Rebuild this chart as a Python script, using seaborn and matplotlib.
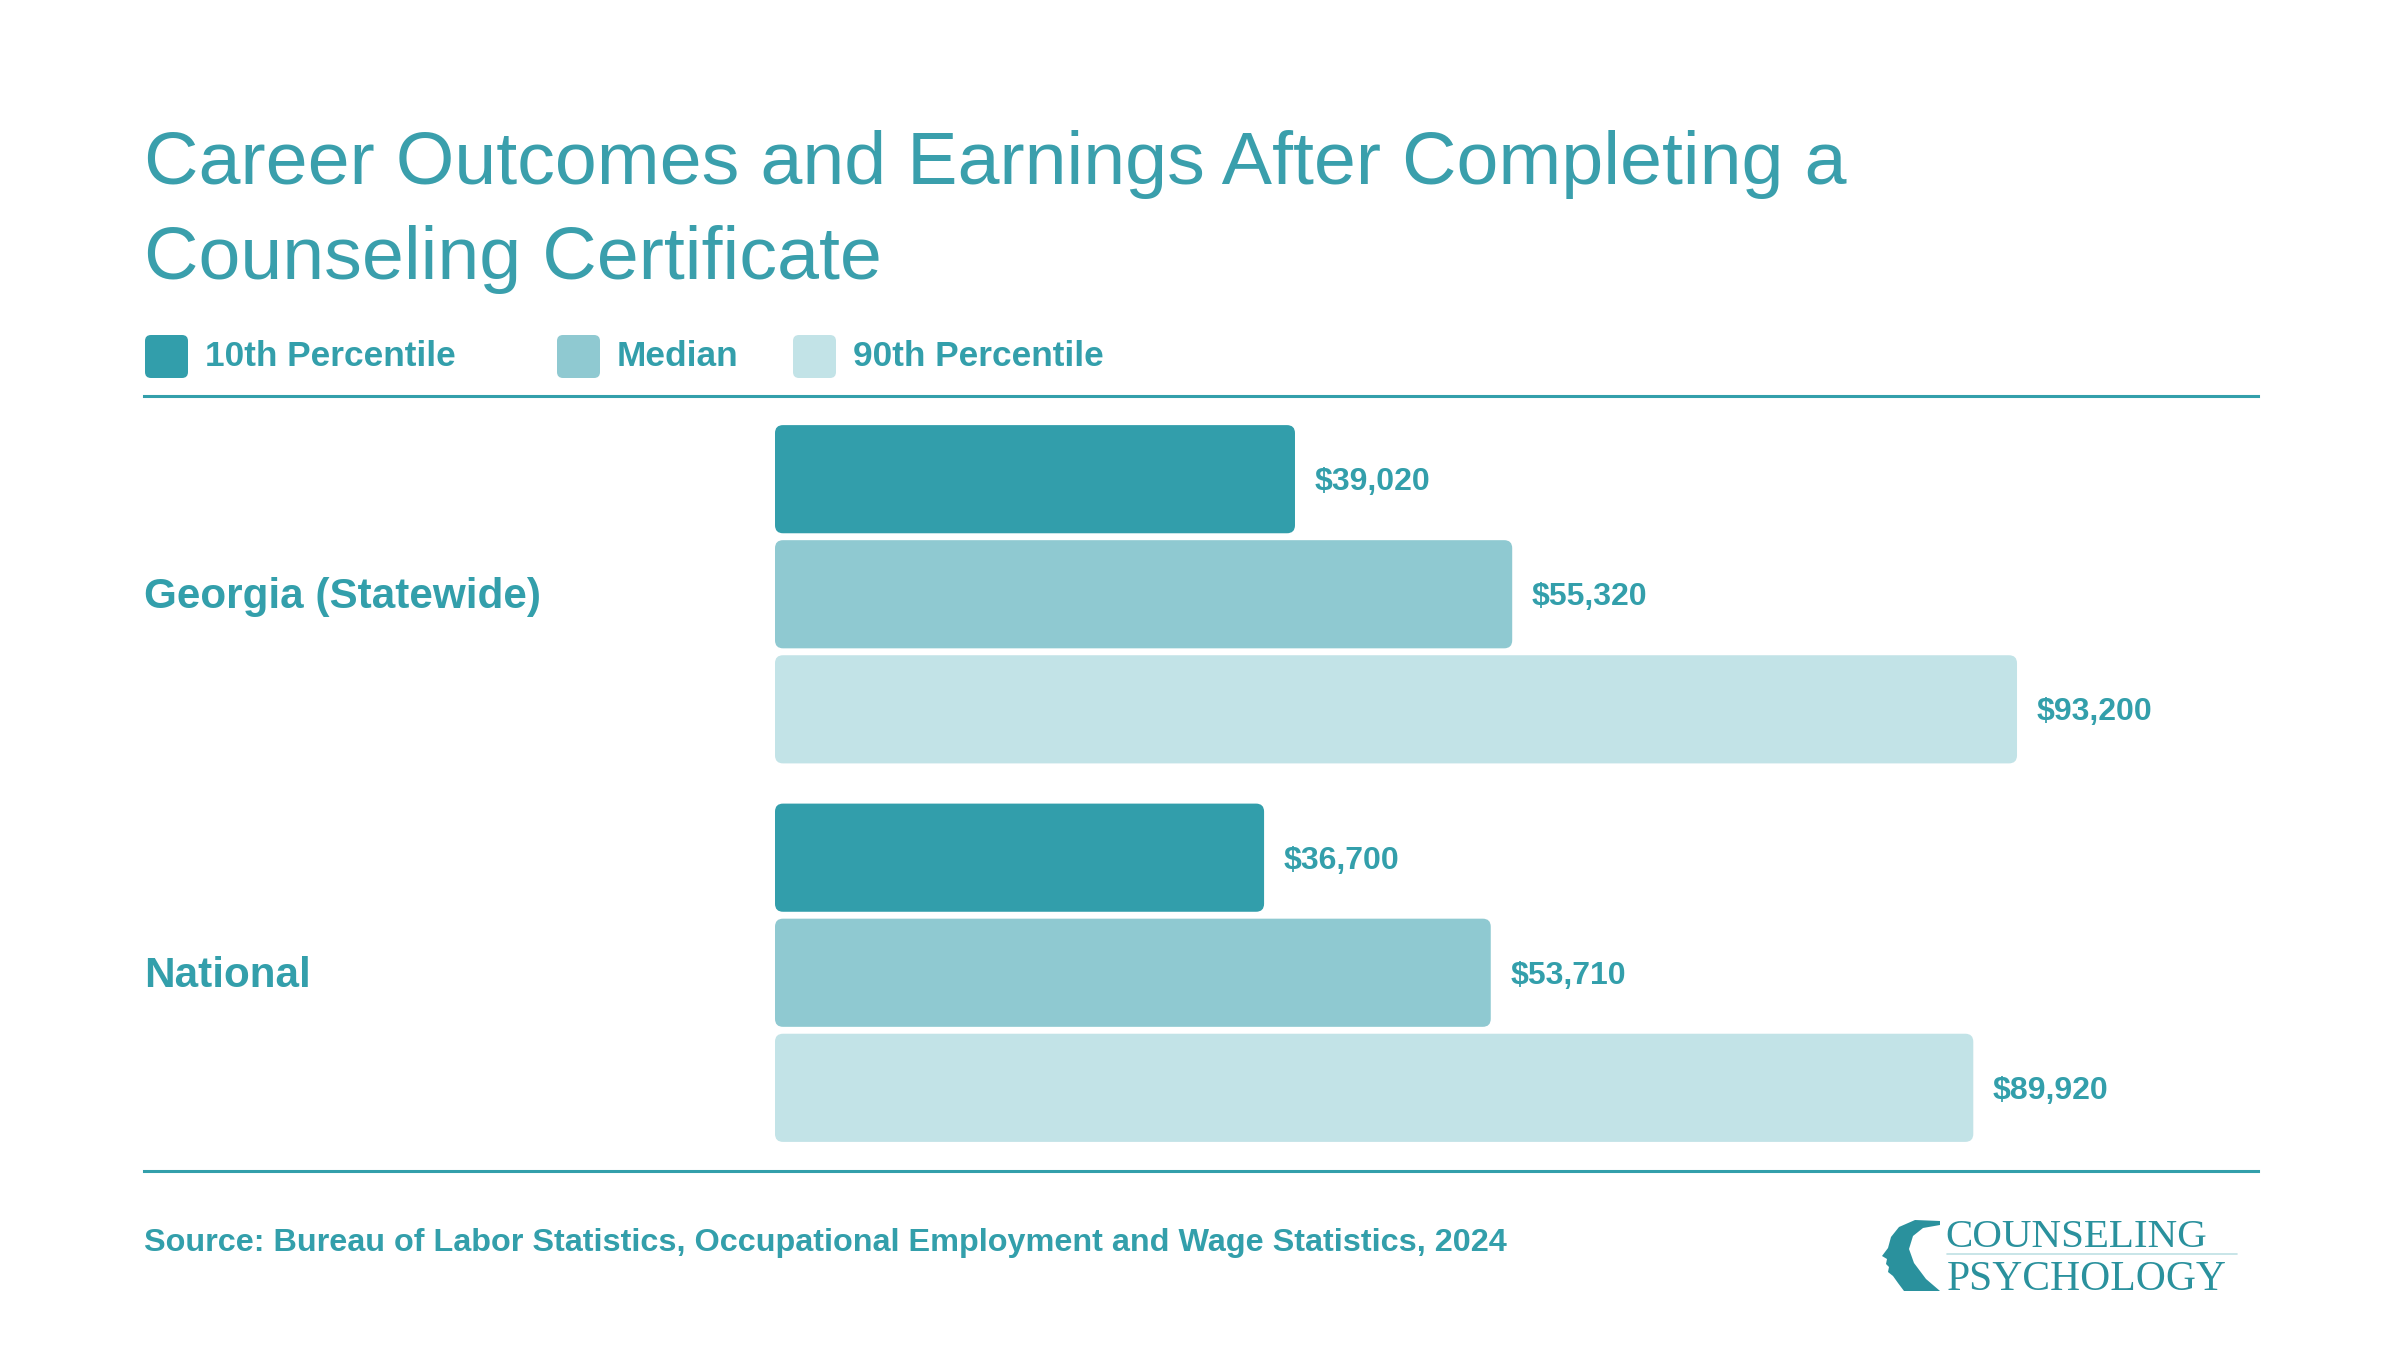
import numpy as np
import pandas as pd
import matplotlib.pyplot as plt
import matplotlib.transforms as mtransforms
import seaborn as sns
from matplotlib.patches import FancyBboxPatch, Polygon
from matplotlib.lines import Line2D

# data
regions = ["Georgia (Statewide)", "National"]
levels = ["10th Percentile", "Median", "90th Percentile"]
p10 = [39020, 36700]
median = [55320, 53710]
p90 = [93200, 89920]

colors = ["#329EAB", "#8FC9D1", "#C2E3E7"]
teal = "#339FAB"
title_teal = "#3A9FAC"

df = pd.DataFrame({
    "Region": regions * len(levels),
    "Level": np.repeat(levels, len(regions)),
    "Wage": p10 + median + p90,
})

sns.set_style("white")
plt.rcParams["font.family"] = ["Liberation Sans", "DejaVu Sans"]

W, H = 2400, 1350
fig = plt.figure(figsize=(W / 100, H / 100), dpi=100)
fig.patch.set_facecolor("white")


def fx(x):
    return x / W


def fy(y):
    return 1 - y / H


# axes spans the full content width; bars start at x=0 further right
ax_left, ax_right, ax_top, ax_bottom = 144, 2258, 396, 1171
bar_origin = 775
usd_per_px = 75.04
cat_px = 378.5

ax = fig.add_axes([fx(ax_left), fy(ax_bottom), (ax_right - ax_left) / W, (ax_bottom - ax_top) / H])
sns.barplot(
    data=df, x="Wage", y="Region", hue="Level", hue_order=levels,
    palette=colors, orient="h", width=0.912, gap=0.06, saturation=1,
    errorbar=None, legend=False, ax=ax,
)

ax.set_xlim(-(bar_origin - ax_left) * usd_per_px, (ax_right - bar_origin) * usd_per_px)
half = (ax_bottom - ax_top) / 2 / cat_px
ax.set_ylim(0.5 + half, 0.5 - half)
ax.set_xticks([])
ax.set_yticks([])
ax.set_xlabel("")
ax.set_ylabel("")
for side in ["left", "right"]:
    ax.spines[side].set_visible(False)
for side in ["top", "bottom"]:
    ax.spines[side].set_color(teal)
    ax.spines[side].set_linewidth(2.2)

# value labels
for cont in ax.containers:
    texts = ax.bar_label(cont, labels=[f"${v:,.0f}" for v in cont.datavalues], padding=14,
                         fontsize=23, fontweight="bold", color=teal)
    for t in texts:
        t.xyann = (14, -2.2)

# swap plain rectangles for rounded ones
x_upp = (ax.get_xlim()[1] - ax.get_xlim()[0]) / (ax_right - ax_left)
y_upp = abs(ax.get_ylim()[1] - ax.get_ylim()[0]) / (ax_bottom - ax_top)
radius = 8 * x_upp
for cont in ax.containers:
    for bar in cont.patches:
        x, y = bar.get_x(), bar.get_y()
        w, h = bar.get_width(), bar.get_height()
        rb = FancyBboxPatch((x, y), w, h, boxstyle=f"round,pad=0,rounding_size={radius}",
                            mutation_aspect=y_upp / x_upp, facecolor=bar.get_facecolor(),
                            edgecolor="none")
        ax.add_patch(rb)
        bar.set_visible(False)

# category labels
trans = mtransforms.blended_transform_factory(ax.transAxes, ax.transData)
for i, name in enumerate(regions):
    ax.text(0, i + 3 * y_upp, name, transform=trans, ha="left", va="center",
            fontsize=30.4, fontweight="bold", color=teal)

# title
fig.text(fx(144), fy(184), "Career Outcomes and Earnings After Completing a",
         fontsize=54.3, color=title_teal, va="baseline", ha="left")
fig.text(fx(144), fy(279), "Counseling Certificate",
         fontsize=54.3, color=title_teal, va="baseline", ha="left")

# legend
leg_x = [145, 557, 793]
sq = 43
for lx, lab, c in zip(leg_x, levels, colors):
    fig.patches.append(FancyBboxPatch((fx(lx), fy(335 + sq)), sq / W, sq / H,
                                      boxstyle="round,pad=0,rounding_size=0.0025",
                                      mutation_aspect=W / H, transform=fig.transFigure,
                                      facecolor=c, edgecolor="none"))
    fig.text(fx(lx + 60), fy(356), lab, fontsize=25.4, fontweight="bold", color=teal,
             va="center", ha="left")

# source
fig.text(fx(144), fy(1251),
         "Source: Bureau of Labor Statistics, Occupational Employment and Wage Statistics, 2024",
         fontsize=23.3, fontweight="bold", color=teal, va="baseline", ha="left")

# logo
logo_c = "#2A919D"
head = [(1940, 1221), (1915, 1220), (1899, 1227), (1891, 1237), (1888, 1248), (1882, 1256),
        (1887, 1259), (1886, 1264), (1889, 1267), (1888, 1272), (1893, 1276), (1898, 1283),
        (1904, 1291), (1940, 1291), (1926, 1279), (1914, 1263), (1909, 1249), (1913, 1236),
        (1923, 1228), (1940, 1225)]
fig.patches.append(Polygon([(fx(a), fy(b)) for a, b in head], closed=True,
                           transform=fig.transFigure, facecolor=logo_c, edgecolor="none"))
fig.text(fx(1945), fy(1247), "COUNSELING", family=["Liberation Serif"], fontsize=29.5,
         color=logo_c, va="baseline", ha="left")
fig.text(fx(1947), fy(1290), "PSYCHOLOGY", family=["Liberation Serif"], fontsize=30,
         color=logo_c, va="baseline", ha="left")
fig.add_artist(Line2D([fx(1947), fx(2237)], [fy(1254), fy(1254)], color="#BFE0E4",
                      linewidth=1.2, transform=fig.transFigure))

fig.savefig("out.png", dpi=100, facecolor="white")
